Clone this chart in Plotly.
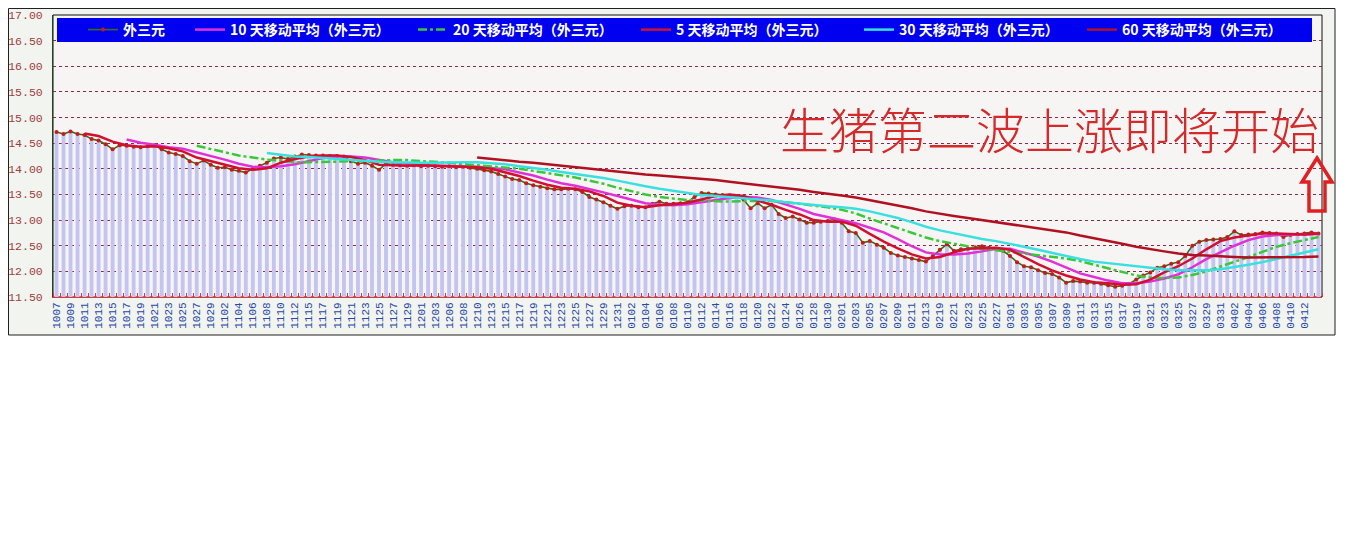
import plotly.graph_objects as go

# ---------------- data ----------------
tick_labels = ["1007","1009","1011","1013","1015","1017","1019","1021","1023","1025",
               "1027","1029","1102","1104","1106","1108","1110","1112","1115","1117",
               "1119","1121","1123","1125","1127","1129","1201","1203","1206","1208",
               "1210","1213","1215","1217","1219","1221","1223","1225","1227","1229",
               "1231","0102","0104","0106","0108","0110","0112","0114","0116","0118",
               "0120","0122","0124","0126","0128","0130","0201","0203","0205","0207",
               "0209","0211","0213","0219","0221","0223","0225","0227","0301","0303",
               "0305","0307","0309","0311","0313","0315","0317","0319","0321","0323",
               "0325","0327","0329","0331","0402","0404","0406","0408","0410","0412"]

# daily price 外三元 (one value per trading day)
price = [14.72,14.68,14.73,14.68,14.66,14.58,14.55,14.48,14.38,14.46,
         14.45,14.43,14.42,14.44,14.46,14.38,14.32,14.29,14.25,14.15,
         14.10,14.16,14.08,14.02,14.03,13.98,13.96,13.93,14.00,14.06,
         14.12,14.20,14.22,14.19,14.24,14.28,14.27,14.26,14.26,14.25,
         14.25,14.24,14.15,14.10,14.12,14.06,13.98,14.10,14.08,14.07,
         14.06,14.07,14.05,14.06,14.05,14.04,14.05,14.03,14.04,14.02,
         14.00,13.97,13.95,13.90,13.85,13.80,13.78,13.72,13.68,13.65,
         13.62,13.60,13.60,13.61,13.60,13.55,13.45,13.40,13.35,13.28,
         13.22,13.27,13.28,13.25,13.25,13.32,13.36,13.32,13.32,13.33,
         13.35,13.45,13.53,13.52,13.50,13.49,13.48,13.46,13.40,13.23,
         13.33,13.23,13.30,13.12,13.04,13.07,13.01,12.95,12.95,12.97,
         12.98,13.01,12.95,12.78,12.75,12.56,12.59,12.52,12.46,12.36,
         12.31,12.28,12.25,12.22,12.19,12.30,12.42,12.53,12.40,12.43,
         12.44,12.47,12.49,12.46,12.44,12.40,12.30,12.18,12.10,12.08,
         12.02,11.97,11.95,11.88,11.78,11.81,11.80,11.78,11.78,11.76,
         11.73,11.70,11.72,11.76,11.84,11.92,11.98,12.07,12.10,12.15,
         12.18,12.30,12.50,12.58,12.61,12.62,12.63,12.67,12.78,12.71,
         12.72,12.73,12.76,12.75,12.74,12.67,12.71,12.73,12.74,12.76,
         12.74]

# moving averages, read every second day (None = not yet available)
ma5 = [None, None,
       14.69,14.64,14.53,14.46,14.43,14.44,14.40,14.34,14.22,14.15,
       14.08,14.01,13.98,14.01,14.12,14.19,14.24,14.26,14.26,14.23,
       14.17,14.08,14.07,14.06,14.07,14.06,14.05,14.04,14.03,14.00,
       13.93,13.86,13.77,13.69,13.63,13.61,13.56,13.47,13.34,13.28,
       13.25,13.29,13.31,13.34,13.40,13.47,13.50,13.47,13.38,13.30,
       13.20,13.11,13.00,12.97,12.97,12.89,12.73,12.58,12.45,12.33,
       12.25,12.28,12.37,12.44,12.45,12.46,12.42,12.28,12.14,12.02,
       11.92,11.84,11.79,11.77,11.74,11.75,11.84,11.98,12.10,12.25,
       12.43,12.59,12.66,12.70,12.74,12.74,12.73,12.72,12.74]

ma10 = [None]*5 + [
       14.57,14.51,14.47,14.42,14.39,14.32,14.26,14.18,14.10,14.04,
       14.03,14.05,14.09,14.15,14.21,14.24,14.24,14.22,14.17,14.13,
       14.10,14.07,14.06,14.06,14.05,14.04,14.02,13.99,13.93,13.87,
       13.79,13.72,13.67,13.61,13.54,13.47,13.40,13.33,13.30,13.29,
       13.31,13.35,13.40,13.43,13.45,13.44,13.39,13.31,13.22,13.12,
       13.06,13.01,12.94,12.85,12.76,12.63,12.49,12.37,12.33,12.33,
       12.35,12.39,12.44,12.44,12.37,12.29,12.19,12.07,11.96,11.89,
       11.82,11.77,11.77,11.80,11.86,11.94,12.08,12.24,12.37,12.50,
       12.61,12.68,12.71,12.72,12.73,12.73]

ma20 = [None]*10 + [
       14.45,14.39,14.32,14.26,14.22,14.18,14.16,14.13,14.13,14.13,
       14.14,14.15,14.15,14.16,14.17,14.17,14.15,14.14,14.12,14.09,
       14.07,14.05,14.02,14.00,13.96,13.92,13.87,13.83,13.77,13.71,
       13.63,13.56,13.50,13.45,13.42,13.39,13.38,13.37,13.36,13.37,
       13.37,13.37,13.35,13.32,13.29,13.25,13.20,13.13,13.03,12.94,
       12.85,12.75,12.66,12.59,12.54,12.49,12.44,12.41,12.38,12.35,
       12.32,12.29,12.25,12.20,12.13,12.06,11.98,11.92,11.88,11.87,
       11.88,11.93,12.00,12.09,12.18,12.28,12.38,12.48,12.55,12.61,
       12.67]

ma30 = [None]*15 + [
       14.31,14.27,14.24,14.23,14.21,
       14.20,14.18,14.16,14.14,14.13,14.12,14.12,14.12,14.13,14.13,
       14.13,14.11,14.09,14.05,14.02,13.98,13.94,13.90,13.87,13.82,
       13.77,13.71,13.66,13.61,13.57,13.52,13.49,13.47,13.45,13.43,
       13.40,13.38,13.35,13.32,13.29,13.27,13.25,13.22,13.17,13.11,
       13.04,12.96,12.87,12.80,12.74,12.68,12.63,12.59,12.54,12.48,
       12.42,12.36,12.29,12.24,12.19,12.16,12.12,12.09,12.06,12.04,
       12.02,12.02,12.02,12.04,12.08,12.13,12.18,12.24,12.30,12.36,
       12.43]

ma60 = [None]*30 + [
       14.22,14.19,14.17,14.14,14.12,14.09,14.06,14.03,14.00,13.97,
       13.95,13.92,13.89,13.87,13.85,13.82,13.80,13.78,13.75,13.72,
       13.69,13.66,13.63,13.59,13.55,13.52,13.48,13.44,13.39,13.34,
       13.28,13.23,13.17,13.12,13.08,13.04,13.00,12.97,12.93,12.89,
       12.85,12.80,12.76,12.70,12.65,12.60,12.54,12.48,12.43,12.39,
       12.35,12.32,12.31,12.29,12.28,12.27,12.27,12.27,12.27,12.28,
       12.29]

names = ["外三元", "10 天移动平均（外三元）", "20 天移动平均（外三元）",
         "5 天移动平均（外三元）", "30 天移动平均（外三元）", "60 天移动平均（外三元）"]

# ---------------- geometry helpers ----------------
# The page body adds an 8px offset; all screen positions below are compensated.
OFF = 8
W, H = 1348 - OFF, 541 - OFF
L, R, T, B = 53, 1322, 15, 297   # plot area in screen pixels


def px(xs):
    return (xs - L) / (R - L)


def py(ys):
    return (B - ys) / (B - T)


N = len(price)
days = list(range(N))
even_days = list(range(0, N, 2))

fig = go.Figure()

fig.add_trace(go.Bar(x=days, y=price, marker=dict(color="#c4c4f0", line=dict(width=0)),
                     showlegend=False, hoverinfo="skip"))

fig.add_trace(go.Scatter(x=days, y=price, name=names[0], mode="lines+markers",
                         line=dict(color="#3a6a18", width=1.6),
                         marker=dict(color="#c81818", size=4), legend="legend"))
line_styles = [
    (ma10, names[1], dict(color="#e030d8", width=2.5)),
    (ma20, names[2], dict(color="#38c838", width=2.5, dash="dashdot")),
    (ma5, names[3], dict(color="#d01030", width=2.5)),
    (ma30, names[4], dict(color="#38e0e0", width=2.5)),
    (ma60, names[5], dict(color="#b01020", width=2.5)),
]
for vals, nm, ln in line_styles:
    fig.add_trace(go.Scatter(x=even_days, y=vals, name=nm, mode="lines", line=ln,
                             legend="legend2"))

shapes = [
    # outer frame (left/top edges sit at the page edge)
    dict(type="rect", xref="paper", yref="paper", x0=px(OFF + 0.5), x1=px(1335), y0=py(335),
         y1=py(OFF + 0.5),
         fillcolor="#f2f4f0", line=dict(color="#202020", width=1), layer="below"),
    # plot area paper
    dict(type="rect", xref="paper", yref="paper", x0=0, x1=1, y0=0, y1=1,
         fillcolor="#f7f5f4", line=dict(color="#101010", width=1), layer="below"),
    # legend band
    dict(type="rect", xref="paper", yref="paper", x0=px(57), x1=px(1312), y0=py(42), y1=py(18),
         fillcolor="#0000f0", line=dict(width=0), layer="above"),
    # up arrow
    dict(type="path", xref="paper", yref="paper", layer="above",
         path="M {} {} L {} {} L {} {} L {} {} L {} {} L {} {} L {} {} Z".format(
             px(1317), py(158), px(1332), py(182), px(1325), py(182), px(1325), py(211),
             px(1309), py(211), px(1309), py(182), px(1302), py(182)),
         line=dict(color="#e02020", width=3.5), fillcolor="rgba(0,0,0,0)"),
]

legend_font = dict(family="Noto Sans CJK SC", size=14, color="white", weight="bold")

fig.update_layout(
    width=W, height=H,
    margin=dict(l=L - OFF, r=(W + OFF) - R, t=T - OFF, b=(H + OFF) - B, pad=0, autoexpand=False),
    paper_bgcolor="white", plot_bgcolor="rgba(0,0,0,0)",
    bargap=0.45,
    shapes=shapes,
    showlegend=True,
    legend=dict(orientation="h", x=px(83), y=py(30), xanchor="left", yanchor="middle",
                bgcolor="rgba(0,0,0,0)", borderwidth=0, font=legend_font, itemwidth=30),
    legend2=dict(orientation="h", x=px(190), y=py(30), xanchor="left", yanchor="middle",
                 bgcolor="rgba(0,0,0,0)", borderwidth=0, font=legend_font, itemwidth=30,
                 entrywidth=178, entrywidthmode="pixels"),
    annotations=[dict(text="生猪第二波上涨即将开始", xref="paper", yref="paper",
                      x=px(1049), y=py(127), xanchor="center", yanchor="middle",
                      showarrow=False,
                      font=dict(family="Noto Sans CJK SC", size=49, color="#d42a2a", weight=300))],
    xaxis=dict(range=[-0.5, N - 0.5], tickmode="array", automargin=False,
               tickvals=even_days[:len(tick_labels)], ticktext=tick_labels,
               tickangle=-90, tickfont=dict(family="Liberation Mono", size=11, color="#2848a8"),
               showgrid=False, zeroline=False, showline=True, linecolor="#e03838", linewidth=1,
               ticks="",
               minor=dict(tickmode="linear", tick0=-0.5, dtick=1, ticks="inside",
                          ticklen=4, tickcolor="#e03838", tickwidth=1, showgrid=False)),
    yaxis=dict(range=[11.5, 17.0], tickmode="linear", tick0=11.5, dtick=0.5, tickformat=".2f",
               automargin=False,
               tickfont=dict(family="Liberation Mono", size=11.5, color="#a03c3c"),
               showgrid=True, gridcolor="#8a2a50", griddash="3px,3px", gridwidth=1,
               zeroline=False, showline=True, linecolor="#1a4a1a", linewidth=1,
               ticks="", ticklabelstandoff=7),
)

fig.write_html("out.html")
